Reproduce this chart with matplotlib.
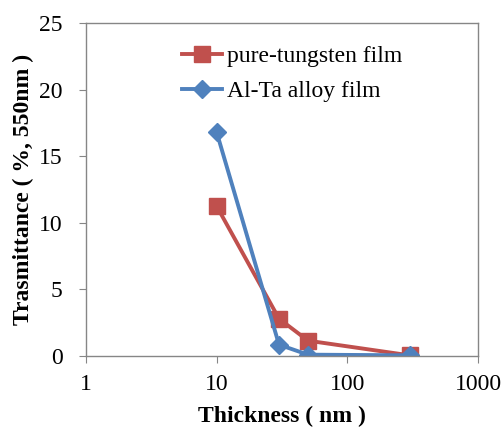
import matplotlib
matplotlib.use("Agg")
import matplotlib.pyplot as plt

thickness = [10, 30, 50, 300]
pure_tungsten = [11.25, 2.8, 1.15, 0.05]
al_ta = [16.8, 0.85, 0.1, 0.05]
xticks = [1, 10, 100, 1000]
xtick_labels = ["1", "10", "100", "1000"]
yticks = [0, 5, 10, 15, 20, 25]

plt.rcParams['font.family'] = ['Liberation Serif', 'DejaVu Serif']

fig = plt.figure(figsize=(5.04, 4.28), dpi=100)
ax = fig.add_axes([86/504, 1-356/428, (478-86)/504, (356-23)/428])

ax.plot(thickness, pure_tungsten, color='#C0504D', lw=2.8, marker='s', ms=11.5,
        label='pure-tungsten film')
ax.plot(thickness, al_ta, color='#4F81BD', lw=2.8, marker='D', ms=9.5,
        label='Al-Ta alloy film')

ax.set_xscale('log')
ax.set_xlim(1, 1000)
ax.set_ylim(0, 25)
ax.set_xticks(xticks)
ax.set_xticklabels(xtick_labels)
ax.set_yticks(yticks)
ax.xaxis.set_minor_locator(matplotlib.ticker.NullLocator())

for s in ax.spines.values():
    s.set_color('#868686')
    s.set_linewidth(1.0)
ax.tick_params(axis='both', direction='out', length=5, color='#868686',
               labelsize=17)
ax.tick_params(axis='y', pad=12)
ax.tick_params(axis='x', pad=8)

ax.set_xlabel('Thickness ( nm )', fontsize=17, fontweight='bold', labelpad=8)
ax.set_ylabel('Trasmittance ( %, 550nm )', fontsize=17, fontweight='bold', labelpad=3.5)

leg = ax.legend(loc='upper left', bbox_to_anchor=(0.19, 0.995), frameon=False,
                fontsize=17, handlelength=1.7, handletextpad=0.2, labelspacing=0.55)

fig.savefig('out.png', dpi=100)
